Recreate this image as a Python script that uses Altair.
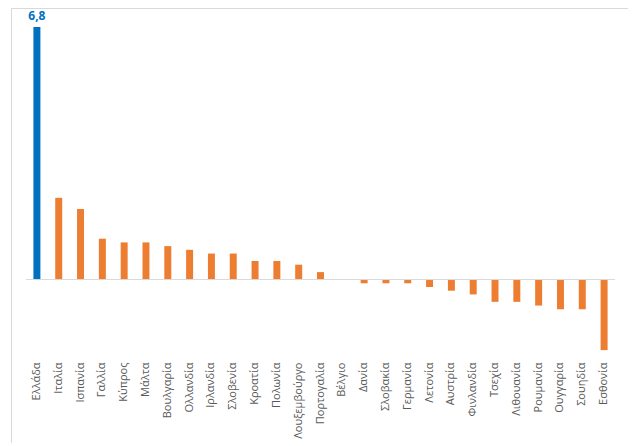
import altair as alt
import pandas as pd

countries = ["Ελλάδα", "Ιταλία", "Ισπανία", "Γαλλία", "Κύπρος", "Μάλτα", "Βουλγαρία",
             "Ολλανδία", "Ιρλανδία", "Σλοβενία", "Κροατία", "Πολωνία", "Λουξεμβούργο",
             "Πορτογαλία", "Βέλγιο", "Δανία", "Σλοβακία", "Γερμανία", "Λετονία", "Αυστρία",
             "Φινλανδία", "Τσεχία", "Λιθουανία", "Ρουμανία", "Ουγγαρία", "Σουηδία", "Εσθονία"]
values = [6.8, 2.2, 1.9, 1.1, 1.0, 1.0, 0.9, 0.8, 0.7, 0.7, 0.5, 0.5, 0.4, 0.2, 0.0,
          -0.1, -0.1, -0.1, -0.2, -0.3, -0.4, -0.6, -0.6, -0.7, -0.8, -0.8, -1.9]
highlight = ["Ελλάδα"]

df = pd.DataFrame({"country": countries, "value": values})
df["group"] = ["hl" if c in highlight else "other" for c in countries]

x_enc = alt.X("country:N", sort=countries,
              scale=alt.Scale(range=[15, 604], paddingInner=0.68, paddingOuter=0.34),
              axis=alt.Axis(title=None, labelAngle=-90, domain=False, ticks=False,
                            labelPadding=3, offset=-84, labelFontSize=11,
                            labelFont="Open Sans", labelColor="#595959"))
y_scale = alt.Scale(domain=[-4.40, 7.31], nice=False, zero=False)

base = alt.Chart(df)

bars = base.mark_bar().encode(
    x=x_enc,
    y=alt.Y("value:Q", scale=y_scale, axis=None),
    color=alt.Color("group:N", scale=alt.Scale(domain=["hl", "other"],
                                                range=["#0070C0", "#ED7D31"]), legend=None),
)

baseline = base.transform_aggregate(
    n="count()"
).transform_calculate(zero="0").mark_rule(color="#d9d9d9", strokeWidth=1).encode(
    y=alt.Y("zero:Q"),
    x=alt.value(15), x2=alt.value(604),
)

labels = base.transform_filter(
    alt.FieldOneOfPredicate(field="country", oneOf=highlight)
).transform_calculate(
    txt="replace(format(datum.value, '.1f'), '.', ',')"
).mark_text(dy=-11, fontSize=12, fontWeight="bold", color="#0070C0",
            font="Open Sans").encode(
    x=alt.X("country:N", sort=countries),
    y=alt.Y("value:Q"),
    text="txt:N",
)

chart = alt.layer(bars, baseline, labels).properties(
    width=617, height=435,
    padding={"left": 3, "top": 0, "right": 0, "bottom": 0},
).configure_view(stroke="#d9d9d9", strokeWidth=1)

chart.save("out.html", embed_options={"renderer": "svg", "actions": False})
